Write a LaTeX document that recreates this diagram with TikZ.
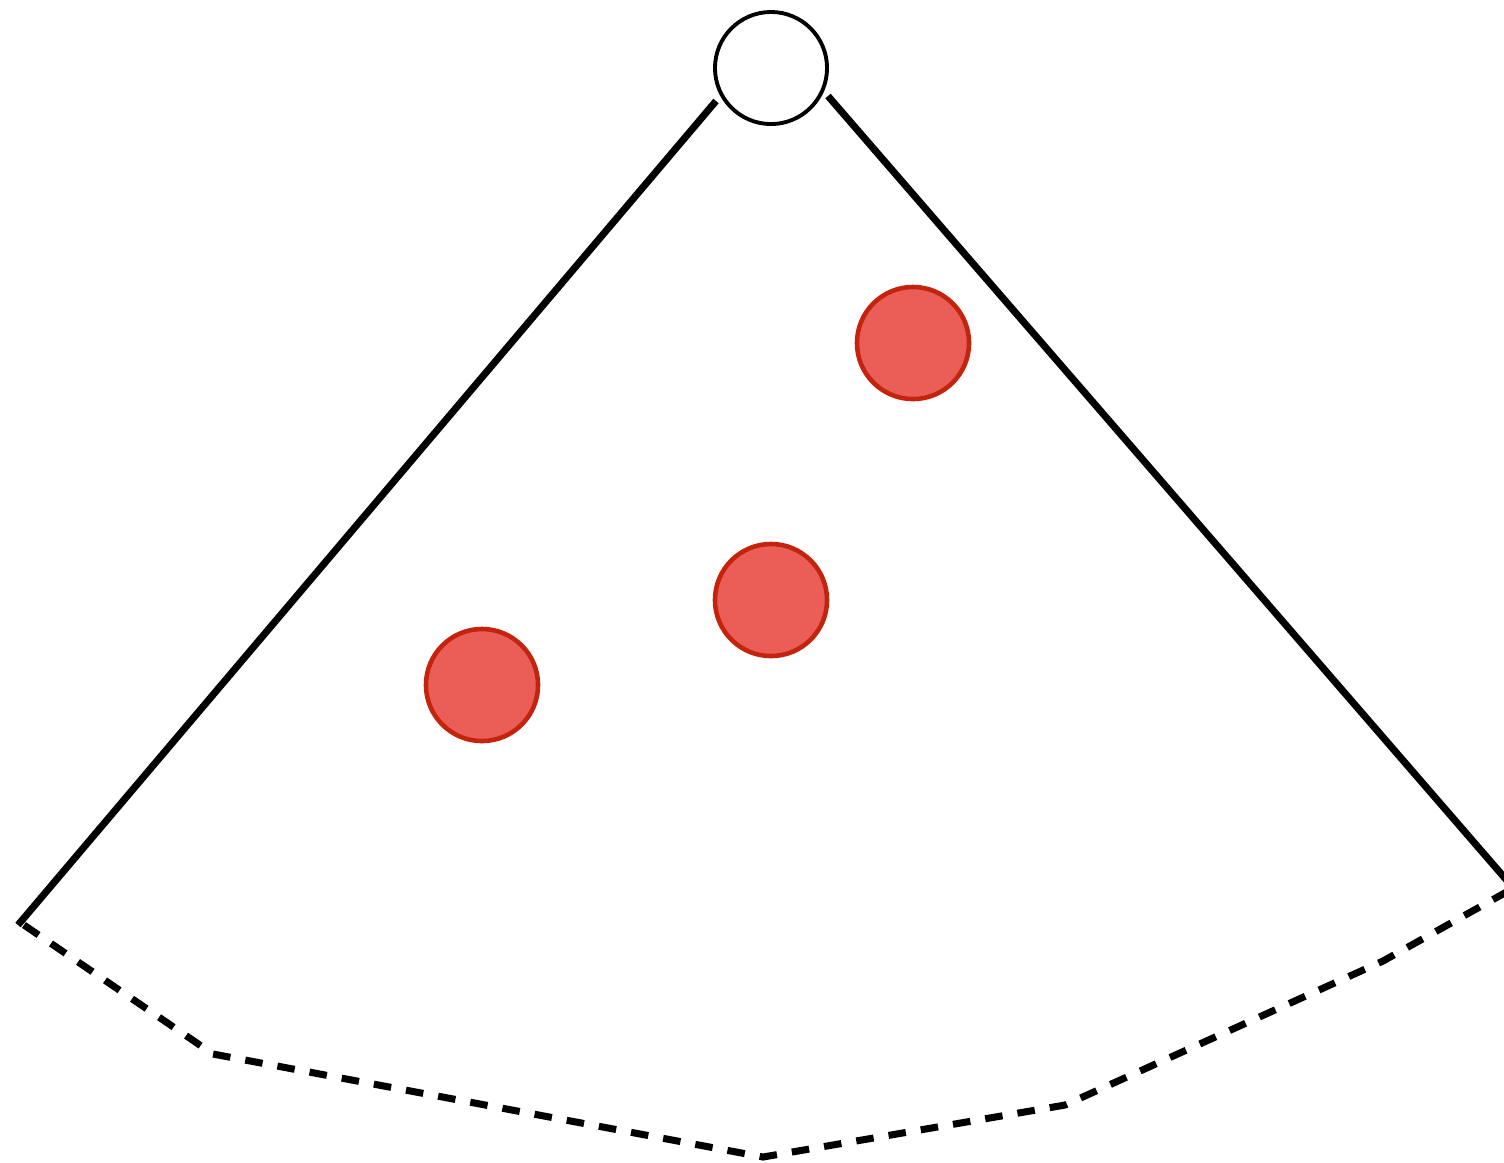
\documentclass[tikz,border=0pt]{standalone}
\usetikzlibrary{positioning}
\definecolor{dotfill}{RGB}{235,94,87}
\definecolor{dotline}{RGB}{196,35,14}
\begin{document}
\begin{tikzpicture}[x=0.01cm,y=-0.01cm,
every node/.style={circle,inner sep=0pt},
apex/.style={draw=black,line width=1.1pt,fill=white,minimum size=1.12cm},
dot/.style={draw=dotline,line width=1.3pt,fill=dotfill,minimum size=1.12cm},
edge/.style={line width=2pt},
rim/.style={line width=2pt,dash pattern=on 5pt off 4.3pt,line join=round}]
\useasboundingbox (0,0) rectangle (1504,1162);
\node[apex] (A) at (771,68) {};
\node[dot] (D1) at (913,343) {};
\node[dot] (D2) at (771,600) {};
\node[dot] (D3) at (482,685) {};
\coordinate (L0) at (716,101);
\coordinate (L1) at (18,925);
\coordinate (R0) at (828,96);
\coordinate (R1) at (1510,884);
\coordinate (B0) at (24,925);
\coordinate (B1) at (213,1054);
\coordinate (B2) at (763,1157);
\coordinate (B3) at (1065,1105);
\coordinate (B4) at (1383,961);
\coordinate (B5) at (1510,890);
\draw[edge] (L0)--(L1);
\draw[edge] (R0)--(R1);
\draw[rim] (B0)--(B1)--(B2)--(B3)--(B4)--(B5);
\end{tikzpicture}
\end{document}
